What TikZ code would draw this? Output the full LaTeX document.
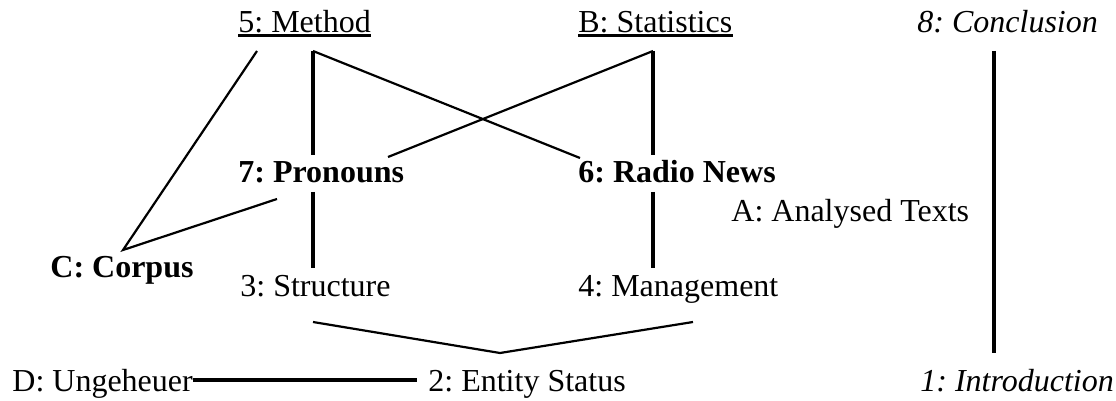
\documentclass[tikz,border=0pt]{standalone}
\usepackage{fontspec}
\setmainfont{Liberation Serif}
\usetikzlibrary{calc}
\frenchspacing
\begin{document}
\begin{tikzpicture}[x=0.5pt, y=-0.5pt,
    every node/.style={anchor=base west, inner sep=0pt, font=\fontsize{16}{19}\selectfont},
    thin link/.style={line width=1.1pt},
    thick link/.style={line width=1.7pt},
    heavy link/.style={line width=2pt},
    underbar/.style={line width=1.5pt}]
\useasboundingbox (0,0) rectangle (1116,401);
% top row
\node (method) at (238,33) {5: Method};
\node (stats) at (578,33) {B: Statistics};
\node (concl) at (917,33) {\itshape 8: Conclusion};
\draw[underbar] ($(method.base west)+(0,2.5)$) -- ($(method.base east)+(0,2.5)$);
\draw[underbar] ($(stats.base west)+(0,2.5)$) -- ($(stats.base east)+(0,2.5)$);
% middle rows
\node (pron) at (238,183) {\bfseries 7: Pronouns};
\node (radio) at (578,183) {\bfseries 6: Radio News};
\node (texts) at (731,222) {A: Analysed Texts};
\node (corpus) at (50,278) {\bfseries C: Corpus};
\node (struct) at (240,297) {3: Structure};
\node (manage) at (578,297) {4: Management};
% bottom row
\node (unge) at (12,392) {D: Ungeheuer};
\node (entity) at (428,392) {2: Entity Status};
\node (intro) at (920,392) {\itshape 1: Introduction};
% end points
\coordinate (method-a) at (257,51);
\coordinate (method-b) at (313,51);
\coordinate (stats-b) at (653,51);
\coordinate (concl-b) at (994,51);
\coordinate (pron-t) at (313,155);
\coordinate (pron-l) at (277,199);
\coordinate (pron-r) at (388,157);
\coordinate (pron-b) at (313,192);
\coordinate (radio-t) at (653,155);
\coordinate (radio-l) at (580,158);
\coordinate (radio-b) at (653,192);
\coordinate (corpus-t) at (123,250);
\coordinate (struct-t) at (313,268);
\coordinate (struct-b) at (313,322);
\coordinate (manage-t) at (653,268);
\coordinate (manage-b) at (693,322);
\coordinate (entity-t) at (500,353);
\coordinate (intro-t) at (994,353);
% connectors
\draw[thin link] (method-a) -- (corpus-t) -- (pron-l);
\draw[thick link] (method-b) -- (pron-t);
\draw[thin link] (method-b) -- (radio-l);
\draw[thin link] (stats-b) -- (pron-r);
\draw[thick link] (stats-b) -- (radio-t);
\draw[thick link] (pron-b) -- (struct-t);
\draw[thick link] (radio-b) -- (manage-t);
\draw[thin link] (struct-b) -- (entity-t) -- (manage-b);
\draw[heavy link] ($(unge.base east)+(0,-12)$) -- ($(entity.base west)+(-11,-12)$);
\draw[thick link] (concl-b) -- (intro-t);
\end{tikzpicture}
\end{document}
